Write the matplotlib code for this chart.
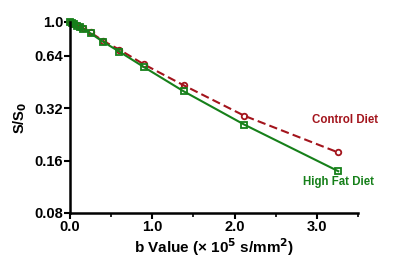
import matplotlib
matplotlib.use("Agg")
import matplotlib.pyplot as plt
from matplotlib.ticker import FixedLocator, MultipleLocator, NullLocator

plt.rcParams['font.family'] = ['Liberation Sans', 'DejaVu Sans']
plt.rcParams['font.weight'] = 'bold'
plt.rcParams['mathtext.default'] = 'bf'

# b values (x 10^5 s/mm^2) and normalised signal S/S0
b_values = [0, 0.02, 0.05, 0.08, 0.12, 0.16, 0.25, 0.4, 0.6, 0.9, 1.38, 2.12, 3.26]
control = [1.0, 0.99, 0.975, 0.96, 0.94, 0.92, 0.87, 0.78, 0.693, 0.57, 0.433, 0.289, 0.178]
high_fat = [1.0, 0.99, 0.97, 0.95, 0.93, 0.91, 0.86, 0.77, 0.675, 0.55, 0.40, 0.257, 0.139]

y_ticks = [0.08, 0.16, 0.32, 0.64, 1.0]
y_tick_labels = ['0.08', '0.16', '0.32', '0.64', '1.0']
x_ticks = [0.0, 1.0, 2.0, 3.0]

red = '#a3141c'
green = '#16801a'

fig = plt.figure(figsize=(4.0, 2.61), dpi=100)
ax = fig.add_axes([0.175, 0.184, 0.72, 0.732])

ax.plot(b_values, control, color=red, ls=(0, (4, 2)), lw=1.5,
        marker='o', ms=4, mfc='none', mec=red, mew=1.3, clip_on=False)
ax.plot(b_values, high_fat, color=green, ls='-', lw=1.5,
        marker='s', ms=4, mfc='none', mec=green, mew=1.3, clip_on=False)

ax.set_yscale('log', base=2)
ax.set_ylim(0.08, 1.0)
ax.set_xlim(0, 3.5)
ax.yaxis.set_major_locator(FixedLocator(y_ticks))
ax.set_yticklabels(y_tick_labels)
ax.yaxis.set_minor_locator(NullLocator())
ax.xaxis.set_major_locator(FixedLocator(x_ticks))
ax.set_xticklabels([f'{v:.1f}' for v in x_ticks])
ax.xaxis.set_minor_locator(MultipleLocator(0.5))

for s in ['top', 'right']:
    ax.spines[s].set_visible(False)
for s in ['left', 'bottom']:
    ax.spines[s].set_linewidth(1.8)

ax.tick_params(axis='both', which='major', labelsize=10.5, width=1.5, length=4, pad=1)
ax.tick_params(axis='x', which='minor', width=1.2, length=3)

ax.set_xlabel('b Value (× 10$^5$ s/mm$^2$)', fontsize=11, fontweight='bold', labelpad=2)
ax.set_ylabel('S/S$_0$', fontsize=10.5, fontweight='bold', labelpad=4)

ax.text(3.34, 0.274, 'Control Diet', color=red, fontsize=8.3, fontweight='bold',
        ha='center', va='center', clip_on=False)
ax.text(3.26, 0.12, 'High Fat Diet', color=green, fontsize=8.3, fontweight='bold',
        ha='center', va='center', clip_on=False)

fig.savefig('out.png', dpi=100)
